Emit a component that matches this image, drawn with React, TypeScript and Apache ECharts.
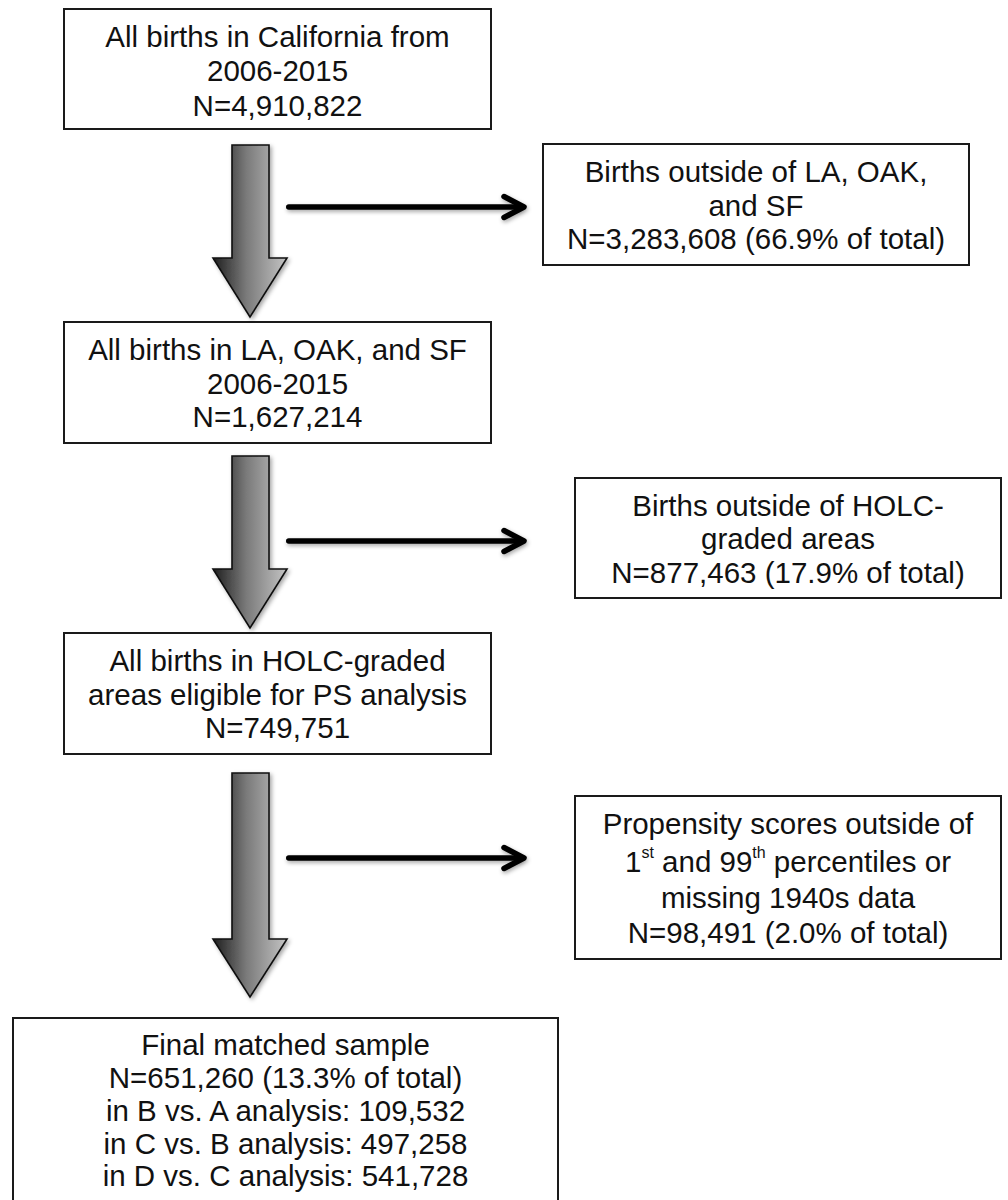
import React, { useEffect, useRef } from "react";
import * as echarts from "echarts";

// ---- Data (texts of the flow chart boxes) ----
const boxAllCA = ["All births in California from", "2006-2015", "N=4,910,822"];
const boxExclCities = ["Births outside of LA, OAK,", "and SF", "N=3,283,608 (66.9% of total)"];
const boxCities = ["All births in LA, OAK, and SF", "2006-2015", "N=1,627,214"];
const boxExclHOLC = ["Births outside of HOLC-", "graded areas", "N=877,463 (17.9% of total)"];
const boxHOLC = ["All births in HOLC-graded", "areas eligible for PS analysis", "N=749,751"];
const boxExclPS = [
  "Propensity scores outside of",
  "1{sup|st} and 99{sup|th} percentiles or",
  "missing 1940s data",
  "N=98,491 (2.0% of total)",
];
const boxFinal = [
  "Final matched sample",
  "N=651,260 (13.3% of total)",
  "in B vs. A analysis: 109,532",
  "in C vs. B analysis: 497,258",
  "in D vs. C analysis: 541,728",
];

const FONT_FAMILY = '"Liberation Sans", Arial, Helvetica, sans-serif';
const FONT_SIZE = 29.5;
const TEXT_COLOR = "#111";

type BoxLayout = { x: number; y: number; w: number; h: number; lineYs: number[] };

function boxElements(lines: string[], b: BoxLayout) {
  const els: any[] = [];
  els.push({
    type: "rect",
    shape: { x: b.x, y: b.y, width: b.w, height: b.h },
    style: { fill: "#fff", stroke: "#1a1a1a", lineWidth: 2 },
    z: 1,
  });
  const cx = b.x + b.w / 2;
  lines.forEach((t, i) => {
    els.push({
      type: "text",
      x: cx,
      y: b.lineYs[i],
      z: 2,
      style: {
        text: t,
        fill: TEXT_COLOR,
        fontSize: FONT_SIZE,
        fontFamily: FONT_FAMILY,
        lineHeight: 34,
        align: "center",
        verticalAlign: "middle",
        textAlign: "center",
        textVerticalAlign: "middle",
        rich: {
          sup: {
            fontSize: 16,
            fontFamily: FONT_FAMILY,
            fill: TEXT_COLOR,
            lineHeight: 18,
            verticalAlign: "top",
          },
        },
      },
    });
  });
  return els;
}

function blockArrow(top: number, headTop: number, tip: number) {
  const sl = 232, sr = 269, hl = 213, hr = 287, cx = 250;
  return {
    type: "polygon",
    z: 1,
    shape: {
      points: [
        [sl, top], [sr, top], [sr, headTop], [hr, headTop], [cx, tip], [hl, headTop], [sl, headTop],
      ],
    },
    style: {
      fill: new echarts.graphic.LinearGradient(0, 0, 1, 0, [
        { offset: 0, color: "#1e1e1e" },
        { offset: 0.45, color: "#7a7a7a" },
        { offset: 1, color: "#c4c4c4" },
      ]),
      stroke: "#111",
      lineWidth: 1.6,
      lineJoin: "miter",
      shadowBlur: 4,
      shadowColor: "rgba(0,0,0,0.35)",
      shadowOffsetX: 2,
      shadowOffsetY: 2,
    },
  };
}

function sideArrow(y: number) {
  const x0 = 286, x1 = 524, th = 5.5;
  const shadow = {
    shadowBlur: 4,
    shadowColor: "rgba(0,0,0,0.35)",
    shadowOffsetX: 1,
    shadowOffsetY: 2,
  };
  return [
    {
      type: "rect",
      z: 1,
      shape: { x: x0, y: y - th / 2, width: x1 - 3 - x0, height: th, r: th / 2 },
      style: { fill: "#000", ...shadow },
    },
    {
      type: "polyline",
      z: 1,
      shape: { points: [[x1 - 20, y - 10.5], [x1, y], [x1 - 20, y + 10.5]] },
      style: {
        stroke: "#000",
        lineWidth: th,
        lineCap: "round",
        lineJoin: "round",
        fill: "none",
        ...shadow,
      },
    },
  ];
}

export default function App() {
  const ref = useRef<HTMLDivElement>(null);
  useEffect(() => {
    if (!ref.current) return;
    const chart = echarts.init(ref.current, undefined, { renderer: "svg" });
    const graphics: any[] = [
      ...boxElements(boxAllCA, { x: 64, y: 9, w: 427, h: 120, lineYs: [36, 70.5, 105] }),
      ...boxElements(boxExclCities, { x: 543, y: 144, w: 426, h: 121, lineYs: [171, 205, 238.5] }),
      ...boxElements(boxCities, { x: 64, y: 322, w: 427, h: 121, lineYs: [349, 383, 416.5] }),
      ...boxElements(boxExclHOLC, { x: 575, y: 478, w: 426, h: 120, lineYs: [505, 538.5, 572] }),
      ...boxElements(boxHOLC, { x: 64, y: 633, w: 427, h: 121, lineYs: [660, 694, 727.5] }),
      ...boxElements(boxExclPS, { x: 575, y: 796, w: 426, h: 163, lineYs: [823, 861, 897, 932] }),
      ...boxElements(boxFinal, { x: 13, y: 1018, w: 545, h: 200, lineYs: [1044, 1077, 1110, 1143, 1175.5] }),
      blockArrow(145, 258, 317),
      blockArrow(456, 569, 628),
      blockArrow(773, 939, 997),
      ...sideArrow(207),
      ...sideArrow(541),
      ...sideArrow(858),
    ];
    chart.setOption({
      animation: false,
      backgroundColor: "#fff",
      graphic: { elements: graphics },
    });
    return () => chart.dispose();
  }, []);
  return (
    <div
      ref={ref}
      style={{ position: "fixed", left: 0, top: 0, width: 1008, height: 1200, background: "#fff" }}
    />
  );
}
